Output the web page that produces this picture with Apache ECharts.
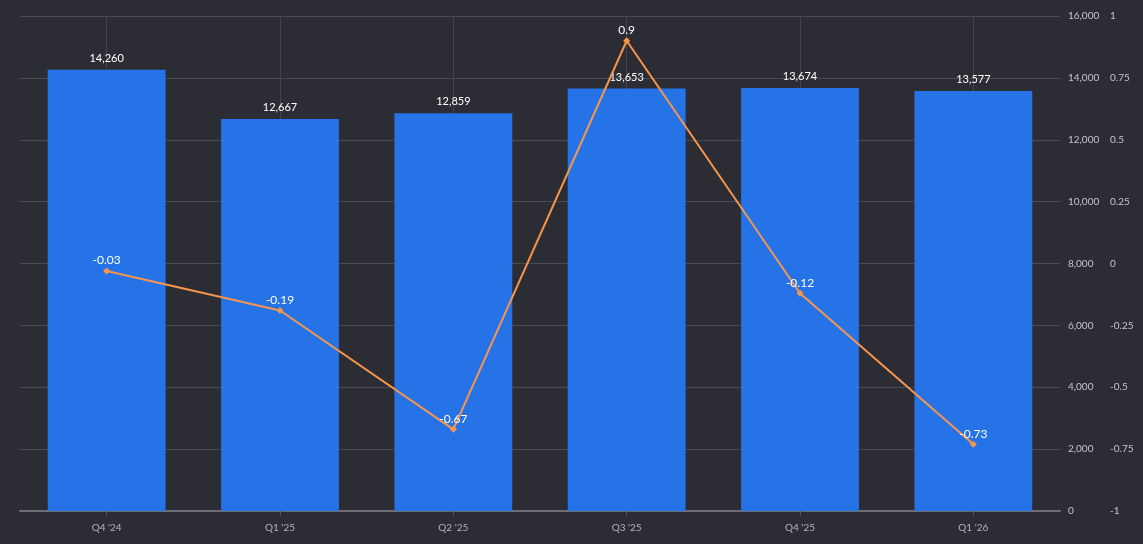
<!DOCTYPE html>
<html>
<head>
<meta charset="utf-8">
<script src="https://cdn.jsdelivr.net/npm/echarts@6/dist/echarts.min.js"></script>
<style>
  html, body { margin: 0; padding: 0; background: #2c2c34; }
  #main { width: 1143px; height: 544px; }
</style>
</head>
<body>
<div id="main"></div>
<script>
var quarters = ["Q4 '24", "Q1 '25", "Q2 '25", "Q3 '25", "Q4 '25", "Q1 '26"];
var barValues = [14260, 12667, 12859, 13653, 13674, 13577];
var lineValues = [-0.03, -0.19, -0.67, 0.9, -0.12, -0.73];

var font = 'Lato';

var option = {
    backgroundColor: '#2c2c34',
    animation: false,
    grid: { left: 20, right: 83, top: 16, bottom: 33 },
    xAxis: {
        type: 'category',
        data: quarters,
        axisLine: { lineStyle: { color: '#6e6e76', width: 2 } },
        axisTick: { show: true, alignWithLabel: true, lineStyle: { color: '#55555d' } },
        axisLabel: { color: '#b4b4bc', fontSize: 10, fontFamily: font, margin: 12 },
        splitLine: { show: true, alignWithLabel: true, lineStyle: { color: '#44444c' } }
    },
    yAxis: [
        {
            type: 'value',
            position: 'right',
            min: 0,
            max: 16000,
            interval: 2000,
            axisLine: { show: false },
            axisTick: { show: false },
            axisLabel: {
                color: '#c4c4cc', fontSize: 10, fontFamily: font, margin: 8,
                formatter: function (v) { return v.toLocaleString('en-US'); }
            },
            splitLine: { lineStyle: { color: '#4a4a52' } }
        },
        {
            type: 'value',
            position: 'right',
            offset: 42,
            min: -1,
            max: 1,
            interval: 0.25,
            axisLine: { show: false },
            axisTick: { show: false },
            axisLabel: { color: '#c4c4cc', fontSize: 10, fontFamily: font, margin: 8 },
            splitLine: { show: false }
        }
    ],
    series: [
        {
            type: 'bar',
            data: barValues,
            barWidth: '68%',
            itemStyle: { color: '#2673e8' },
            label: {
                show: true,
                position: 'top',
                distance: 6,
                color: '#ffffff',
                fontSize: 11,
                fontFamily: font,
                formatter: function (p) { return p.value.toLocaleString('en-US'); }
            }
        },
        {
            type: 'line',
            yAxisIndex: 1,
            data: lineValues,
            symbol: 'diamond',
            symbolSize: 7,
            lineStyle: { color: '#f7954c', width: 2 },
            itemStyle: { color: '#f7954c' },
            label: {
                show: true,
                position: 'top',
                distance: 1,
                color: '#ffffff',
                fontSize: 12,
                fontFamily: font
            }
        }
    ]
};

var myChart = echarts.init(document.getElementById('main'));
myChart.setOption(option);
</script>
</body>
</html>
